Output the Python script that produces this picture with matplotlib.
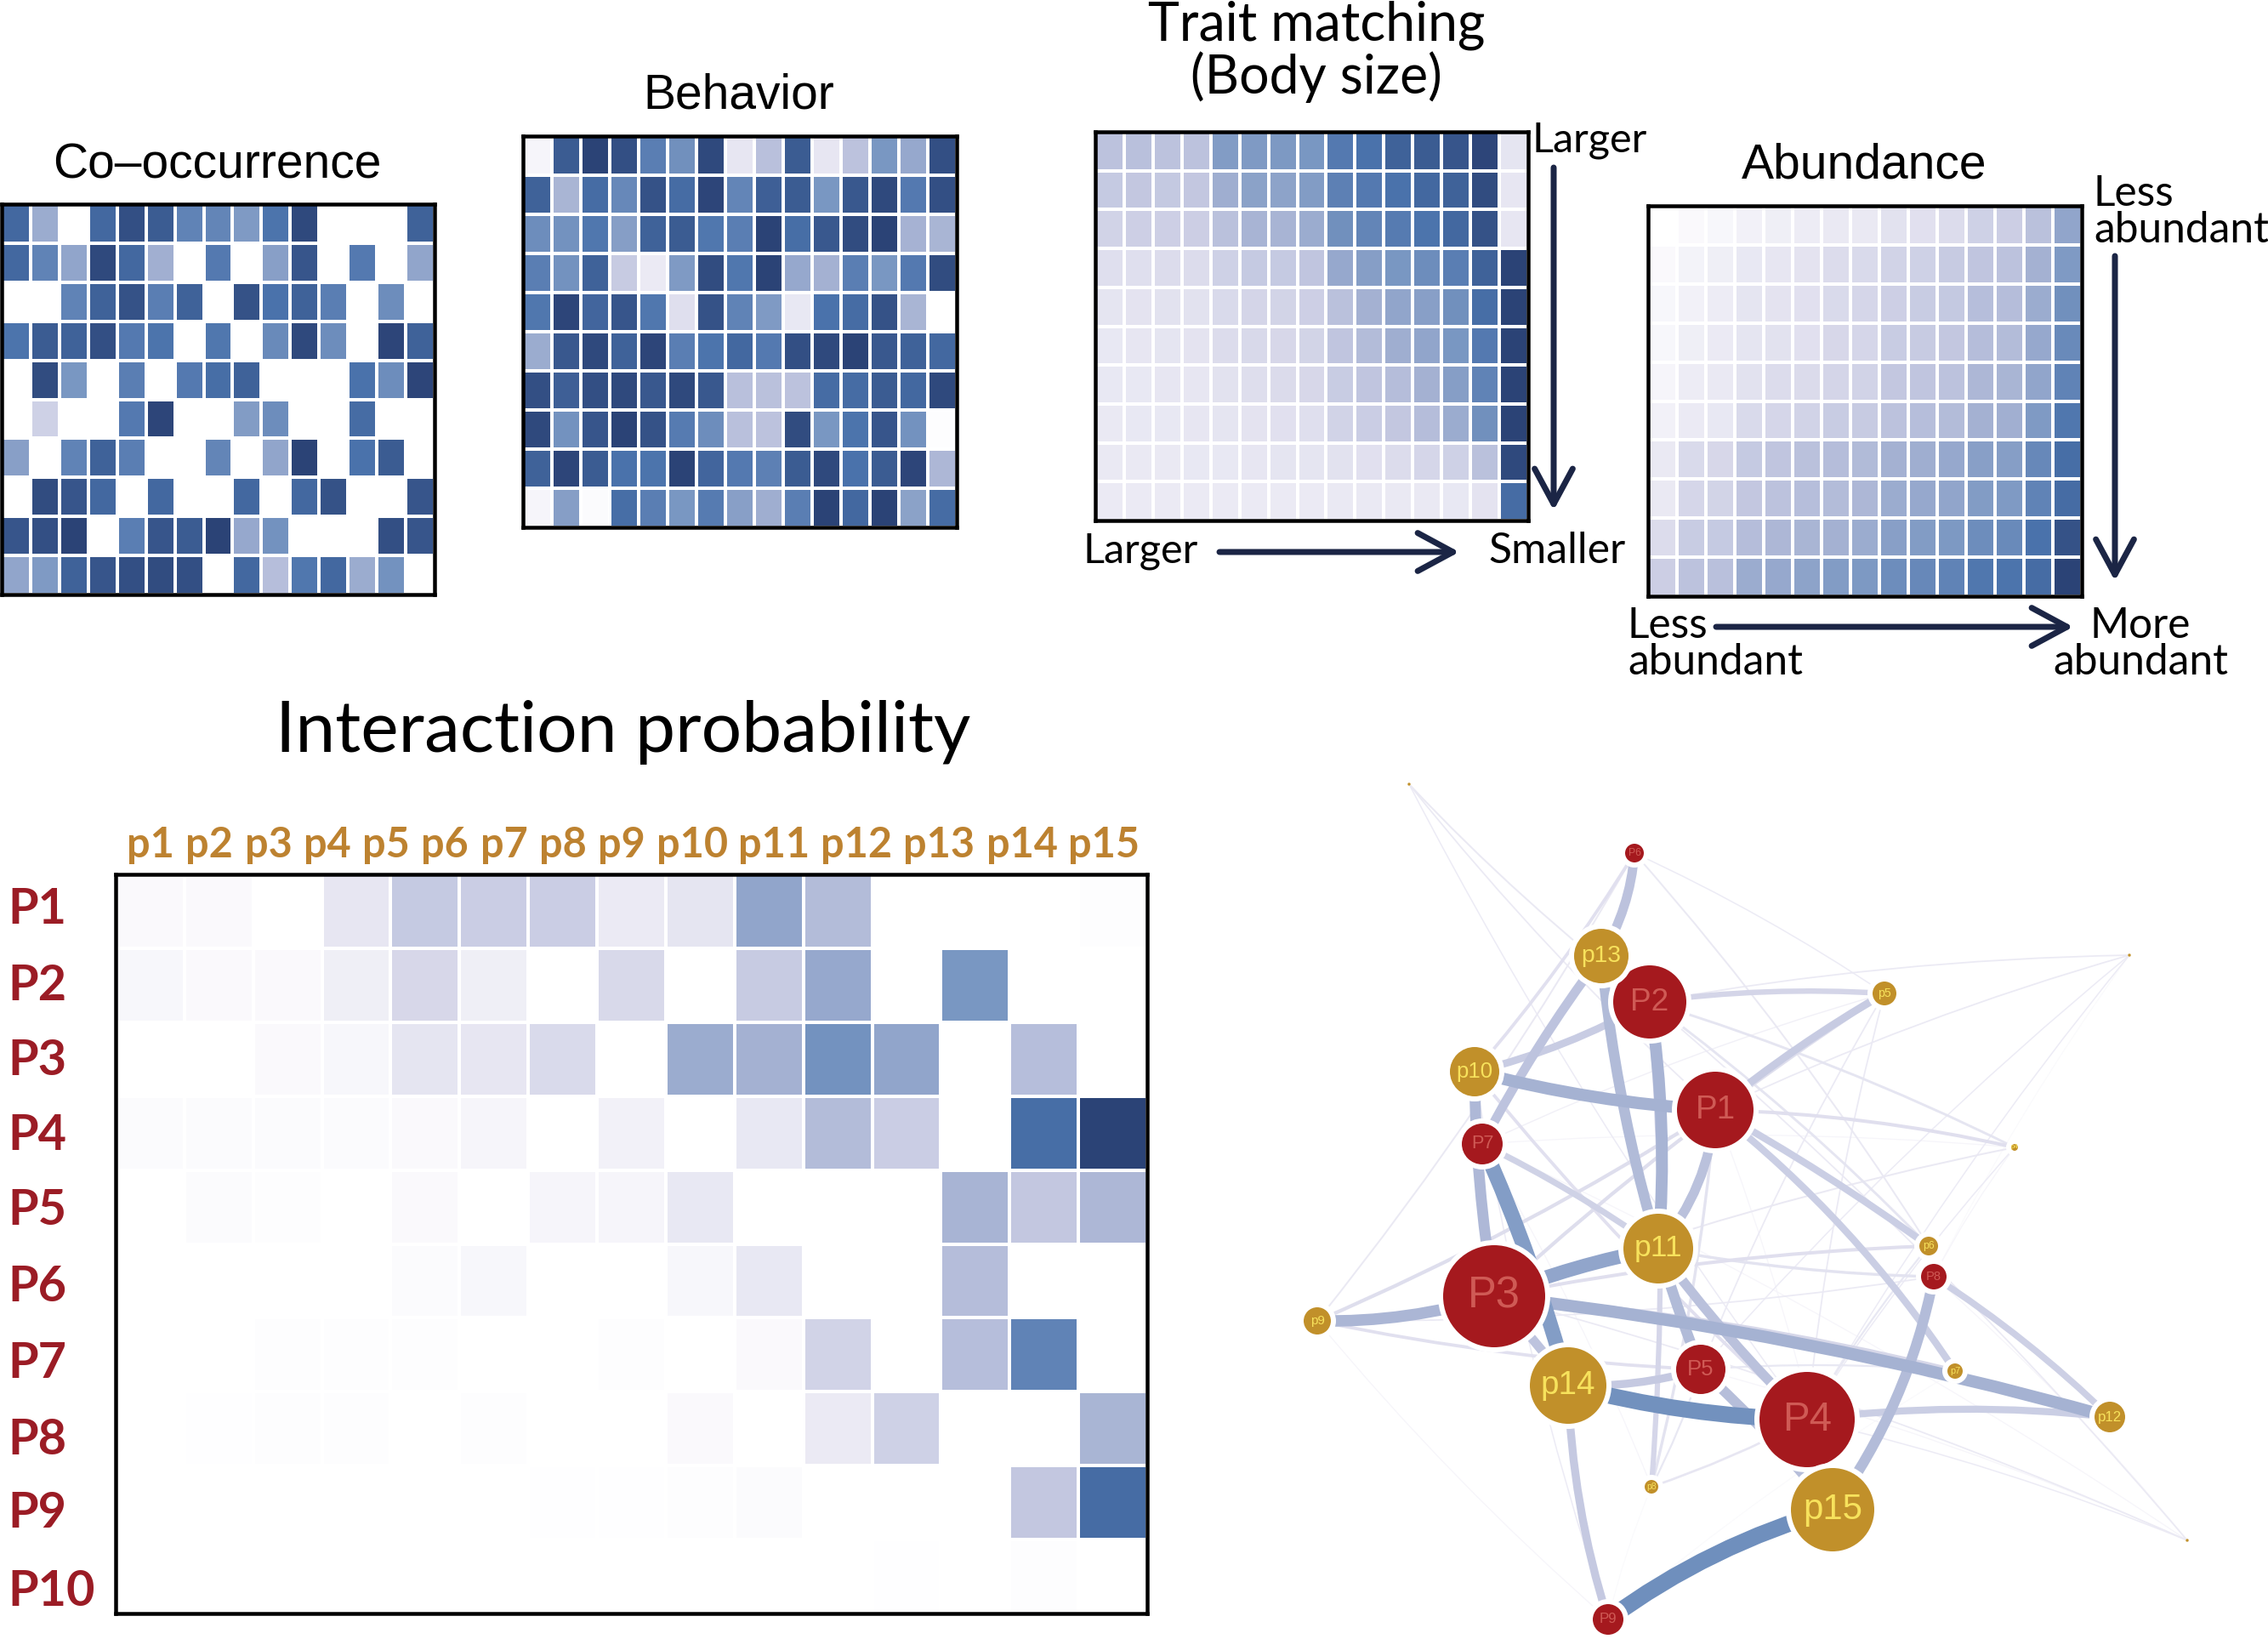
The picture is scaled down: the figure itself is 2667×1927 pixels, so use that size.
import matplotlib
matplotlib.use("Agg")
import matplotlib.pyplot as plt
import numpy as np
from matplotlib.colors import LinearSegmentedColormap
from matplotlib.patches import Circle, FancyArrowPatch, PathPatch
from matplotlib.path import Path

W, H = 2667, 1927
DPI = 100
PX = 72.0 / DPI

# ---------- data ----------
cooccurrence = [
    [.88, .58, 0, .88, .96, .92, .78, .77, .68, .84, .98, 0, 0, 0, .90],
    [.88, .78, .62, .98, .88, .56, 0, .82, 0, .65, .94, 0, .82, 0, .62],
    [0, 0, .78, .90, .95, .80, .90, 0, .95, .85, .90, .80, 0, .74, 0],
    [.84, .92, .90, .96, .82, .84, 0, .83, 0, .75, .98, .74, 0, .99, .90],
    [0, .97, .70, 0, .80, 0, .82, .86, .90, 0, 0, 0, .85, .74, .99],
    [0, .30, 0, 0, .82, .99, 0, 0, .67, .74, 0, 0, .87, 0, 0],
    [.65, 0, .78, .90, .80, 0, 0, .77, 0, .62, 1.0, 0, .85, .92, 0],
    [0, .97, .94, .88, 0, .88, 0, 0, .88, 0, .88, .95, 0, 0, .94],
    [.94, .96, 1.0, 0, .80, .94, .92, 1.0, .60, .72, 0, 0, 0, .96, .94],
    [.62, .68, .90, .94, .96, .97, .96, 0, .88, .45, .83, .88, .58, .72, 0],
]
behavior = [
    [.05, .92, 1.0, .96, .80, .73, .98, .13, .44, .92, .13, .42, .70, .60, .96],
    [.90, .52, .87, .76, .95, .87, .99, .77, .91, .92, .70, .93, .98, .82, .96],
    [.74, .72, .83, .66, .90, .92, .83, .80, 1.0, .86, .93, .97, 1.0, .54, .52],
    [.80, .72, .90, .35, .10, .68, .97, .83, 1.0, .60, .55, .80, .70, .82, .97],
    [.83, .99, .89, .94, .83, .18, .95, .78, .68, .12, .85, .87, .95, .52, 0],
    [.58, .93, .98, .90, .99, .80, .84, .88, .82, .96, .98, 1.0, .93, .90, .88],
    [.96, .91, .96, .98, .93, .98, .93, .44, .43, .42, .87, .87, .92, .88, .98],
    [.98, .72, .94, 1.0, .95, .81, .74, .44, .42, .97, .70, .84, .94, .72, .01],
    [.90, .99, .92, .85, .84, 1.0, .89, .82, .79, .92, .98, .85, .92, .99, .50],
    [.05, .66, .02, .86, .80, .70, .81, .65, .57, .80, 1.0, .88, 1.0, .64, .87],
]
trait = [
    [.42, .44, .42, .42, .67, .68, .69, .70, .82, .85, .90, .92, .94, .99, .14],
    [.36, .38, .37, .38, .57, .64, .63, .67, .79, .82, .85, .88, .90, .97, .13],
    [.28, .31, .31, .32, .43, .53, .53, .58, .73, .77, .81, .84, .88, .95, .13],
    [.18, .18, .20, .20, .30, .36, .36, .40, .60, .66, .70, .74, .80, .90, 1.0],
    [.14, .15, .16, .16, .22, .26, .27, .31, .43, .55, .62, .65, .73, .86, 1.0],
    [.12, .13, .14, .15, .20, .23, .24, .27, .40, .47, .57, .62, .70, .82, 1.0],
    [.12, .12, .13, .13, .16, .19, .21, .24, .34, .40, .46, .55, .66, .78, 1.0],
    [.11, .12, .12, .13, .14, .15, .17, .18, .28, .33, .38, .46, .58, .73, 1.0],
    [.11, .11, .11, .12, .12, .13, .14, .14, .16, .17, .20, .25, .30, .43, .98],
    [.10, .10, .10, .10, .10, .10, .10, .10, .11, .11, .11, .11, .12, .15, .87],
]
abundance = [
    [0, .03, .04, .07, .08, .09, .11, .11, .16, .17, .20, .30, .32, .43, .62],
    [.03, .06, .08, .12, .13, .15, .20, .22, .28, .30, .35, .40, .42, .55, .68],
    [.04, .07, .09, .14, .15, .17, .22, .25, .31, .34, .37, .45, .46, .58, .73],
    [.04, .08, .10, .14, .16, .17, .24, .25, .34, .35, .38, .46, .47, .60, .75],
    [.05, .09, .11, .16, .20, .21, .26, .28, .38, .40, .42, .50, .52, .62, .78],
    [.07, .10, .12, .22, .25, .28, .34, .35, .42, .45, .47, .55, .56, .68, .83],
    [.11, .22, .24, .36, .40, .43, .46, .48, .55, .57, .60, .65, .66, .76, .86],
    [.11, .25, .27, .38, .42, .45, .47, .50, .58, .60, .62, .67, .68, .78, .87],
    [.20, .34, .36, .46, .50, .52, .55, .58, .65, .67, .69, .74, .75, .85, .95],
    [.32, .42, .44, .58, .60, .63, .67, .69, .74, .76, .78, .83, .84, .87, 1.0],
]
probability = [
    [.03, .03, 0, .13, .36, .33, .33, .10, .14, .62, .47, 0, 0, 0, .01],
    [.04, .03, .03, .08, .24, .08, 0, .23, 0, .35, .60, 0, .70, 0, 0],
    [0, 0, .03, .04, .14, .13, .22, 0, .58, .55, .72, .62, 0, .45, 0],
    [.02, .02, .02, .02, .03, .05, 0, .07, 0, .12, .47, .33, 0, .86, 1.0],
    [0, .02, .01, 0, .03, 0, .05, .05, .12, 0, 0, 0, .53, .38, .50],
    [0, 0, 0, 0, .02, .04, 0, 0, .04, .12, 0, 0, .46, 0, 0],
    [0, 0, .01, .01, .015, 0, 0, .01, 0, .03, .28, 0, .45, .78, 0],
    [0, .005, .01, .01, 0, .01, 0, 0, .03, 0, .10, .30, 0, 0, .52],
    [0, 0, 0, 0, 0, 0, .005, .005, .01, .02, 0, 0, 0, .38, .87],
    [0, 0, 0, 0, 0, 0, 0, 0, 0, 0, 0, .005, 0, .015, 0],
]
plant_labels = [f"P{i}" for i in range(1, 11)]
pollinator_labels = [f"p{i}" for i in range(1, 16)]

# network node layout (in reference pixels); P10 is not drawn in the network
plant_x = [2017, 1940, 1757, 2125, 2000, 1922, 1743, 2274, 1891]
plant_y = [1305, 1178, 1524, 1669, 1610, 1003, 1345, 1501, 1904]
plant_r = [48, 46, 63, 59, 32, 14, 27, 18, 21]
poll_x = [1657, 2504, 2572, 2369, 2216, 2268, 2299, 1942, 1549, 1734, 1950, 2481, 1883, 1844, 2155]
poll_y = [922, 1123, 1811, 1349, 1168, 1465, 1612, 1748, 1553, 1260, 1468, 1666, 1124, 1629, 1775]
poll_r = [2, 2, 2, 7, 17, 14, 12, 11, 19, 32, 44, 21, 35, 48, 52]

# edge bends: (plant index, pollinator index) -> curvature
edge_bend = {
    (1, 4): -.05, (8, 14): -.09, (8, 13): -.07, (7, 14): -.11, (3, 11): -.06,
    (0, 6): -.08, (0, 9): -.05, (1, 10): -.06, (4, 12): -.07, (2, 8): -.08,
    (3, 13): -.06, (2, 10): -.05, (0, 10): -.16, (0, 5): -.03, (4, 13): -.08,
    (7, 11): -.05, (6, 13): -.04, (5, 12): -.12, (0, 3): -.05, (1, 9): -.07,
}

cmap = LinearSegmentedColormap.from_list(
    "pp",
    [(0, "#ffffff"), (.1, "#ebeaf4"), (.2, "#dcdcec"), (.4, "#c0c5df"), (.55, "#a4b1d2"),
     (.7, "#7a97c2"), (.85, "#4a72ab"), (1, "#2b4376")],
)

plt.rcParams["font.family"] = ["Liberation Sans", "DejaVu Sans"]
fig = plt.figure(figsize=(W / DPI, H / DPI), dpi=DPI, facecolor="white")


def axes_px(x0, y0, x1, y1, **kw):
    return fig.add_axes([x0 / W, 1 - y1 / H, (x1 - x0) / W, (y1 - y0) / H], **kw)


def heat(matrix, box, gap=4.0):
    ax = axes_px(*box)
    m = np.array(matrix, dtype=float)
    ax.pcolormesh(m, cmap=cmap, vmin=0, vmax=1, edgecolors="white", linewidth=gap * PX)
    ax.set_xlim(0, m.shape[1])
    ax.set_ylim(m.shape[0], 0)
    ax.set_xticks([])
    ax.set_yticks([])
    for s in ax.spines.values():
        s.set_linewidth(4.5 * PX)
        s.set_color("black")
        s.set_zorder(5)
    return ax


heat(cooccurrence, (2, 240, 511, 699))
heat(behavior, (615, 160, 1125, 620))
heat(trait, (1288, 155, 1797, 612))
heat(abundance, (1938, 242, 2448, 701))
heat(probability, (136, 1028, 1349, 1897))

# overlay in reference pixel coordinates
ov = fig.add_axes([0, 0, 1, 1], facecolor="none", zorder=10)
ov.set_xlim(0, W)
ov.set_ylim(H, 0)
ov.axis("off")

HEL = ["Liberation Sans", "DejaVu Sans"]
CAL = ["Lato", "DejaVu Sans"]


def T(x, y, s, size, family=HEL, color="black", ha="center", weight="normal", z=6):
    ov.text(x, y, s, fontsize=size, family=family, color=color, ha=ha, va="center",
            fontweight=weight, zorder=z)


T(255, 194, "Co\u2013occurrence", 41)
T(869, 112, "Behavior", 41)
T(1548, 30, "Trait matching", 45, family=CAL)
T(1548, 91, "(Body size)", 45, family=CAL)
T(2192, 195, "Abundance", 41)
T(733, 861, "Interaction probability", 60.5, family=CAL)

T(1802, 165, "Larger", 35, family=CAL, ha="left")
T(1273, 648, "Larger", 35, family=CAL, ha="left")
T(1750, 648, "Smaller", 36, family=CAL, ha="left")
T(2462, 228, "Less", 35.7, family=CAL, ha="left")
T(2462, 271, "abundant", 35.7, family=CAL, ha="left")
T(1914, 736, "Less", 35.7, family=CAL, ha="left")
T(1914, 779, "abundant", 35.7, family=CAL, ha="left")
T(2517, 736, "More", 35.7, family=CAL)
T(2517, 779, "abundant", 35.7, family=CAL)

ARROW = "#1b2545"
for start, end in [((1827, 197), (1827, 600)), ((1434, 649), (1716, 649)),
                   ((2487, 301), (2487, 683)), ((2018, 737), (2438, 737))]:
    ov.add_patch(FancyArrowPatch(start, end, arrowstyle="->,head_length=1.15,head_width=0.62",
                                 mutation_scale=26, lw=7 * PX, color=ARROW, shrinkA=0, shrinkB=0,
                                 zorder=6))

# axis labels of probability matrix
col_x = [177, 246, 316, 385, 454, 523, 593, 662, 731, 814, 910, 1007, 1104, 1202, 1298]
row_y = [1066, 1156, 1245, 1333, 1421, 1510, 1600, 1691, 1777, 1868]
for x, s in zip(col_x, pollinator_labels):
    T(x, 994, s, 35, family=CAL, color="#bd8230", weight="bold")
for y, s in zip(row_y, plant_labels):
    T(9, y + 3, s, 41.5, family=CAL, color="#9b1c25", weight="bold", ha="left")

# network: every interaction cell of a drawn plant is an edge
prob = np.array(probability)
edges = [(prob[i, j], i, j) for i in range(len(plant_x)) for j in range(prob.shape[1]) if prob[i, j] > 0]
for v, i, j in sorted(edges):
    p0 = np.array([plant_x[i], plant_y[i]], float)
    p1 = np.array([poll_x[j], poll_y[j]], float)
    d = p1 - p0
    c = edge_bend.get((i, j), -.04)
    ctrl = (p0 + p1) / 2 + c * np.array([-d[1], d[0]])
    path = Path([p0, ctrl, p1], [Path.MOVETO, Path.CURVE3, Path.CURVE3])
    col = cmap(min(.75 * v + min(4 * v, .08), 1))
    ov.add_patch(PathPatch(path, fc="none", ec=col, lw=(1.0 + 21 * v ** .95) * PX,
                           capstyle="butt", zorder=2 + v))


def node(x, y, r, name, face, tc):
    ov.add_patch(Circle((x, y), r, fc=face, ec="white", lw=(6 if r > 4 else 0.5) * PX, zorder=4))
    if r >= 5:
        size = r * .58 if r >= 19 else r * .45 + 2.5
        ov.text(x, y, name, fontsize=size, family=HEL, color=tc, ha="center", va="center", zorder=5)


for k, (x, y, r) in enumerate(zip(plant_x, plant_y, plant_r)):
    node(x, y, r, plant_labels[k], "#a5191e", "#cf5a55")
for k in [12, 9, 8, 4, 3, 5, 6, 7, 0, 1, 2, 10, 11, 13, 14]:
    node(poll_x[k], poll_y[k], poll_r[k], pollinator_labels[k], "#c1902a", "#f7e25c")

fig.savefig("out.png", dpi=DPI, facecolor="white")
